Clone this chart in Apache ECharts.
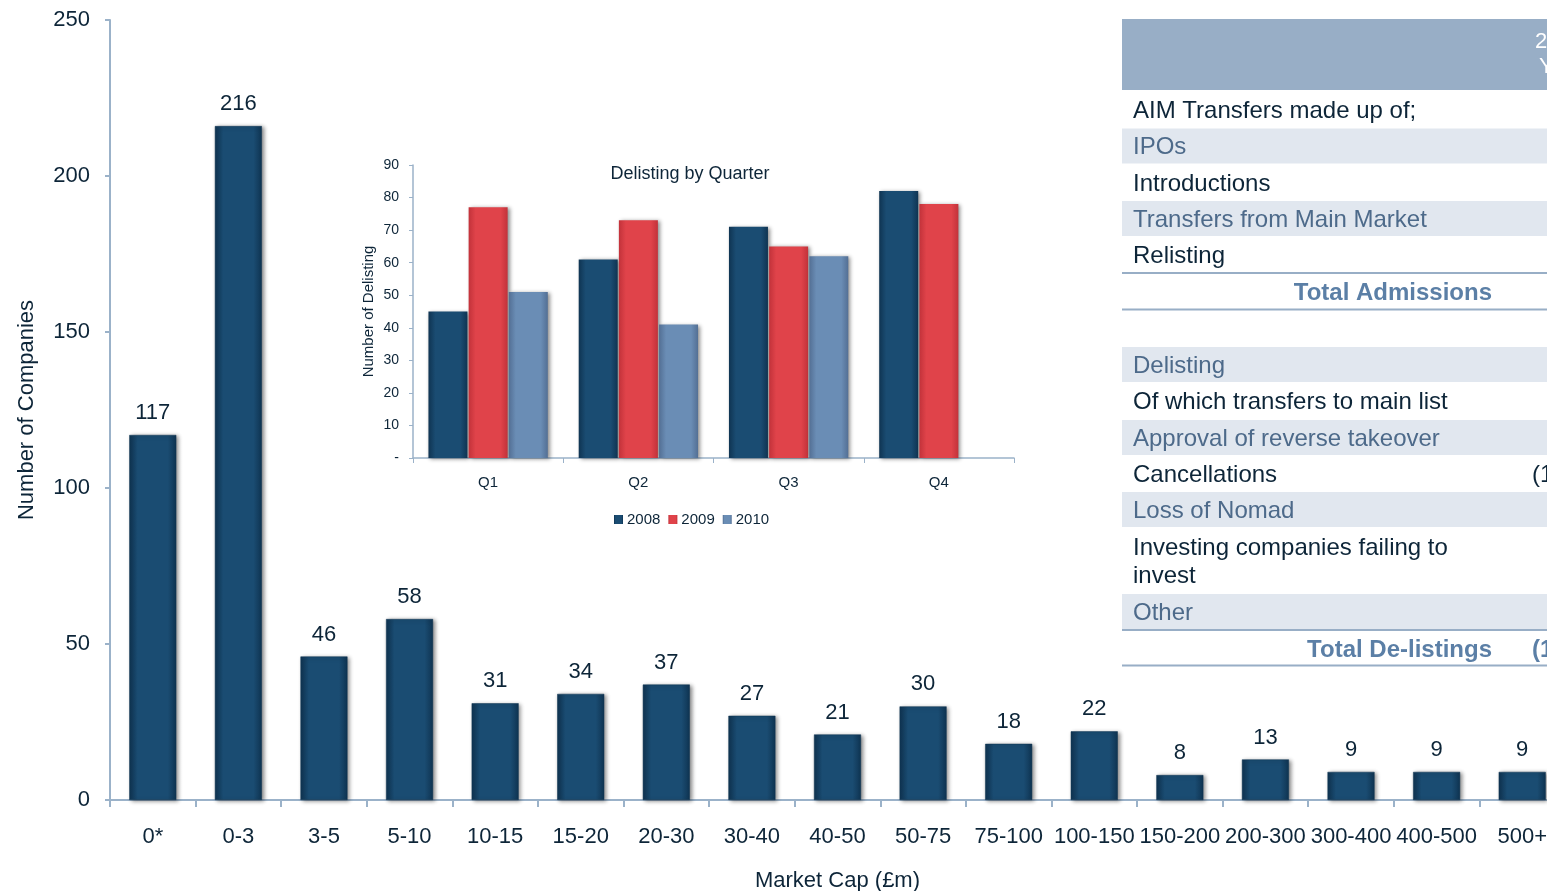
<!DOCTYPE html>
<html>
<head>
<meta charset="utf-8">
<script src="https://cdn.jsdelivr.net/npm/echarts@6/dist/echarts.min.js"></script>
<style>
html,body{margin:0;padding:0;background:#fff;}
#c{width:1547px;height:891px;}
</style>
</head>
<body>
<div id="c"></div>
<script>
// ---- Main chart data ----
var capCategories = ['0*','0-3','3-5','5-10','10-15','15-20','20-30','30-40','40-50','50-75','75-100','100-150','150-200','200-300','300-400','400-500','500+'];
var companyCounts = [117,216,46,58,31,34,37,27,21,30,18,22,8,13,9,9,9];

// ---- Inset chart data ----
var quarters = ['Q1','Q2','Q3','Q4'];
var delist2008 = [45,61,71,82];
var delist2009 = [77,73,65,78];
var delist2010 = [51,41,62,null];

// ---- Table rows ----
var admissionRows = ['AIM Transfers made up of;','IPOs','Introductions','Transfers from Main Market','Relisting'];
var delistingRows = ['Delisting','Of which transfers to main list','Approval of reverse takeover','Cancellations','Loss of Nomad','Investing companies failing to\ninvest','Other'];
var totalAdmissionsLabel = 'Total Admissions';
var totalDelistingsLabel = 'Total De-listings';
var headerText = ['2','Y'];
var partialValues = {cancellations:'(1', total:'(1'};

var FONT = '"Liberation Sans", Arial, sans-serif';
var TXT = '#0d2538';
var AXIS = '#9bb2c9';

function hGrad(edge, mid){
  return new echarts.graphic.LinearGradient(0,0,1,0,[
    {offset:0,color:edge},{offset:0.18,color:mid},{offset:0.82,color:mid},{offset:1,color:edge}
  ]);
}

var chart = echarts.init(document.getElementById('c'), null, {renderer:'canvas'});

// Build table graphics
var g = [];
var TX = 1122, TW = 460, TL = 1133;
var TF = '24px ' + FONT;
g.push({type:'rect', shape:{x:TX,y:19,width:TW,height:71}, style:{fill:'#98aec6'}});
g.push({type:'text', style:{text:headerText[0], x:1535, y:42, fill:'#fff', font:'22px '+FONT, textVerticalAlign:'middle'}});
g.push({type:'text', style:{text:headerText[1], x:1539, y:67, fill:'#fff', font:'22px '+FONT, textVerticalAlign:'middle'}});

var admTops = [92,128.5,165,201,237];
admissionRows.forEach(function(t,i){
  var shaded = (i%2===1);
  if(shaded) g.push({type:'rect', shape:{x:TX,y:admTops[i],width:TW,height:35}, style:{fill:'#e1e7ef'}});
  g.push({type:'text', style:{text:t, x:TL, y:admTops[i]+19, fill: shaded?'#4d6a8a':TXT, font:TF, textVerticalAlign:'middle'}});
});
g.push({type:'line', shape:{x1:TX,y1:273,x2:TX+TW,y2:273}, style:{stroke:'#98aec6',lineWidth:2}});
g.push({type:'text', style:{text:totalAdmissionsLabel, x:1492, y:293, fill:'#5b7fa6', font:'bold '+TF, textAlign:'right', textVerticalAlign:'middle'}});
g.push({type:'line', shape:{x1:TX,y1:309.5,x2:TX+TW,y2:309.5}, style:{stroke:'#98aec6',lineWidth:2}});

var delTops = [347,383,420,456,492,528,594];
var delH = [35,36,35,36,35,66,35];
delistingRows.forEach(function(t,i){
  var shaded = (i%2===0);
  if(shaded) g.push({type:'rect', shape:{x:TX,y:delTops[i],width:TW,height:delH[i]}, style:{fill:'#e1e7ef'}});
  g.push({type:'text', style:{text:t, x:TL, y:delTops[i]+delH[i]/2+1.5, fill: shaded?'#4d6a8a':TXT, font:TF, textVerticalAlign:'middle', lineHeight:28}});
});
g.push({type:'text', style:{text:partialValues.cancellations, x:1532, y:475, fill:TXT, font:TF, textVerticalAlign:'middle'}});
g.push({type:'line', shape:{x1:TX,y1:630,x2:TX+TW,y2:630}, style:{stroke:'#98aec6',lineWidth:2}});
g.push({type:'text', style:{text:totalDelistingsLabel, x:1492, y:650, fill:'#5b7fa6', font:'bold '+TF, textAlign:'right', textVerticalAlign:'middle'}});
g.push({type:'text', style:{text:partialValues.total, x:1532, y:650, fill:'#5b7fa6', font:'bold '+TF, textVerticalAlign:'middle'}});
g.push({type:'line', shape:{x1:TX,y1:665.5,x2:TX+TW,y2:665.5}, style:{stroke:'#98aec6',lineWidth:2}});

var barShadow = {shadowBlur:4, shadowColor:'rgba(0,0,0,0.45)', shadowOffsetX:2, shadowOffsetY:1};

var option = {
  animation:false,
  backgroundColor:'#fff',
  textStyle:{fontFamily:FONT},
  title:{text:'Delisting by Quarter', left:685, top:160, textAlign:'center',
    textStyle:{fontSize:18, fontWeight:'normal', color:TXT, fontFamily:FONT}},
  legend:{data:['2008','2009','2010'], top:512, left:614, itemWidth:9, itemHeight:9, itemGap:8,
    icon:'rect', textStyle:{fontSize:15,color:TXT,fontFamily:FONT,padding:[0,0,0,-1]}, padding:0},
  grid:[
    {left:110, top:20, bottom:91, right:-18, containLabel:false, outerBoundsMode:'none'},
    {left:413, top:165, bottom:433, right:533, containLabel:false, outerBoundsMode:'none'}
  ],
  xAxis:[
    {type:'category', gridIndex:0, data:capCategories,
      name:'Market Cap (£m)', nameLocation:'middle', nameGap:70,
      nameTextStyle:{fontSize:22,color:TXT,fontFamily:FONT},
      axisLine:{lineStyle:{color:AXIS,width:2}},
      axisTick:{show:true,length:7,lineStyle:{color:AXIS,width:2}},
      axisLabel:{fontSize:22,color:TXT,margin:26,fontFamily:FONT,interval:0}},
    {type:'category', gridIndex:1, data:quarters,
      axisLine:{lineStyle:{color:AXIS,width:1.5}},
      axisTick:{show:true,length:5,lineStyle:{color:AXIS}},
      axisLabel:{fontSize:15,color:TXT,margin:17,fontFamily:FONT}}
  ],
  yAxis:[
    {type:'value', gridIndex:0, min:0, max:250, interval:50,
      name:'Number of Companies', nameLocation:'middle', nameGap:72, nameRotate:90,
      nameTextStyle:{fontSize:22,color:TXT,fontFamily:FONT},
      axisLine:{show:true,lineStyle:{color:AXIS,width:2}},
      axisTick:{show:true,length:5,lineStyle:{color:AXIS,width:2}},
      splitLine:{show:false},
      axisLabel:{fontSize:22,color:TXT,margin:20,fontFamily:FONT}},
    {type:'value', gridIndex:1, min:0, max:90, interval:10,
      name:'Number of Delisting', nameLocation:'middle', nameGap:37, nameRotate:90,
      nameTextStyle:{fontSize:15,color:TXT,fontFamily:FONT},
      axisLine:{show:true,lineStyle:{color:AXIS,width:1.5}},
      axisTick:{show:true,length:4,lineStyle:{color:AXIS}},
      splitLine:{show:false},
      axisLabel:{fontSize:14,color:TXT,margin:14,fontFamily:FONT,
        formatter:function(v){return v===0?'-':v;}}}
  ],
  series:[
    {type:'bar', xAxisIndex:0, yAxisIndex:0, data:companyCounts, barWidth:47,
      itemStyle:Object.assign({color:hGrad('#0f3452','#1a4c72'), borderColor:'#0f3452', borderWidth:0.5}, barShadow),
      label:{show:true, position:'top', distance:11, fontSize:22, color:TXT, fontFamily:FONT}},
    {name:'2008', type:'bar', xAxisIndex:1, yAxisIndex:1, data:delist2008, barWidth:39, barGap:'3%',
      itemStyle:Object.assign({color:hGrad('#0f3452','#1a4c72')}, barShadow)},
    {name:'2009', type:'bar', xAxisIndex:1, yAxisIndex:1, data:delist2009, barWidth:39, barGap:'3%',
      itemStyle:Object.assign({color:hGrad('#c2323a','#e0434a')}, barShadow)},
    {name:'2010', type:'bar', xAxisIndex:1, yAxisIndex:1, data:delist2010, barWidth:39, barGap:'3%',
      itemStyle:Object.assign({color:hGrad('#536f94','#6a8db5')}, barShadow)}
  ],
  graphic:g
};
chart.setOption(option);
</script>
</body>
</html>
